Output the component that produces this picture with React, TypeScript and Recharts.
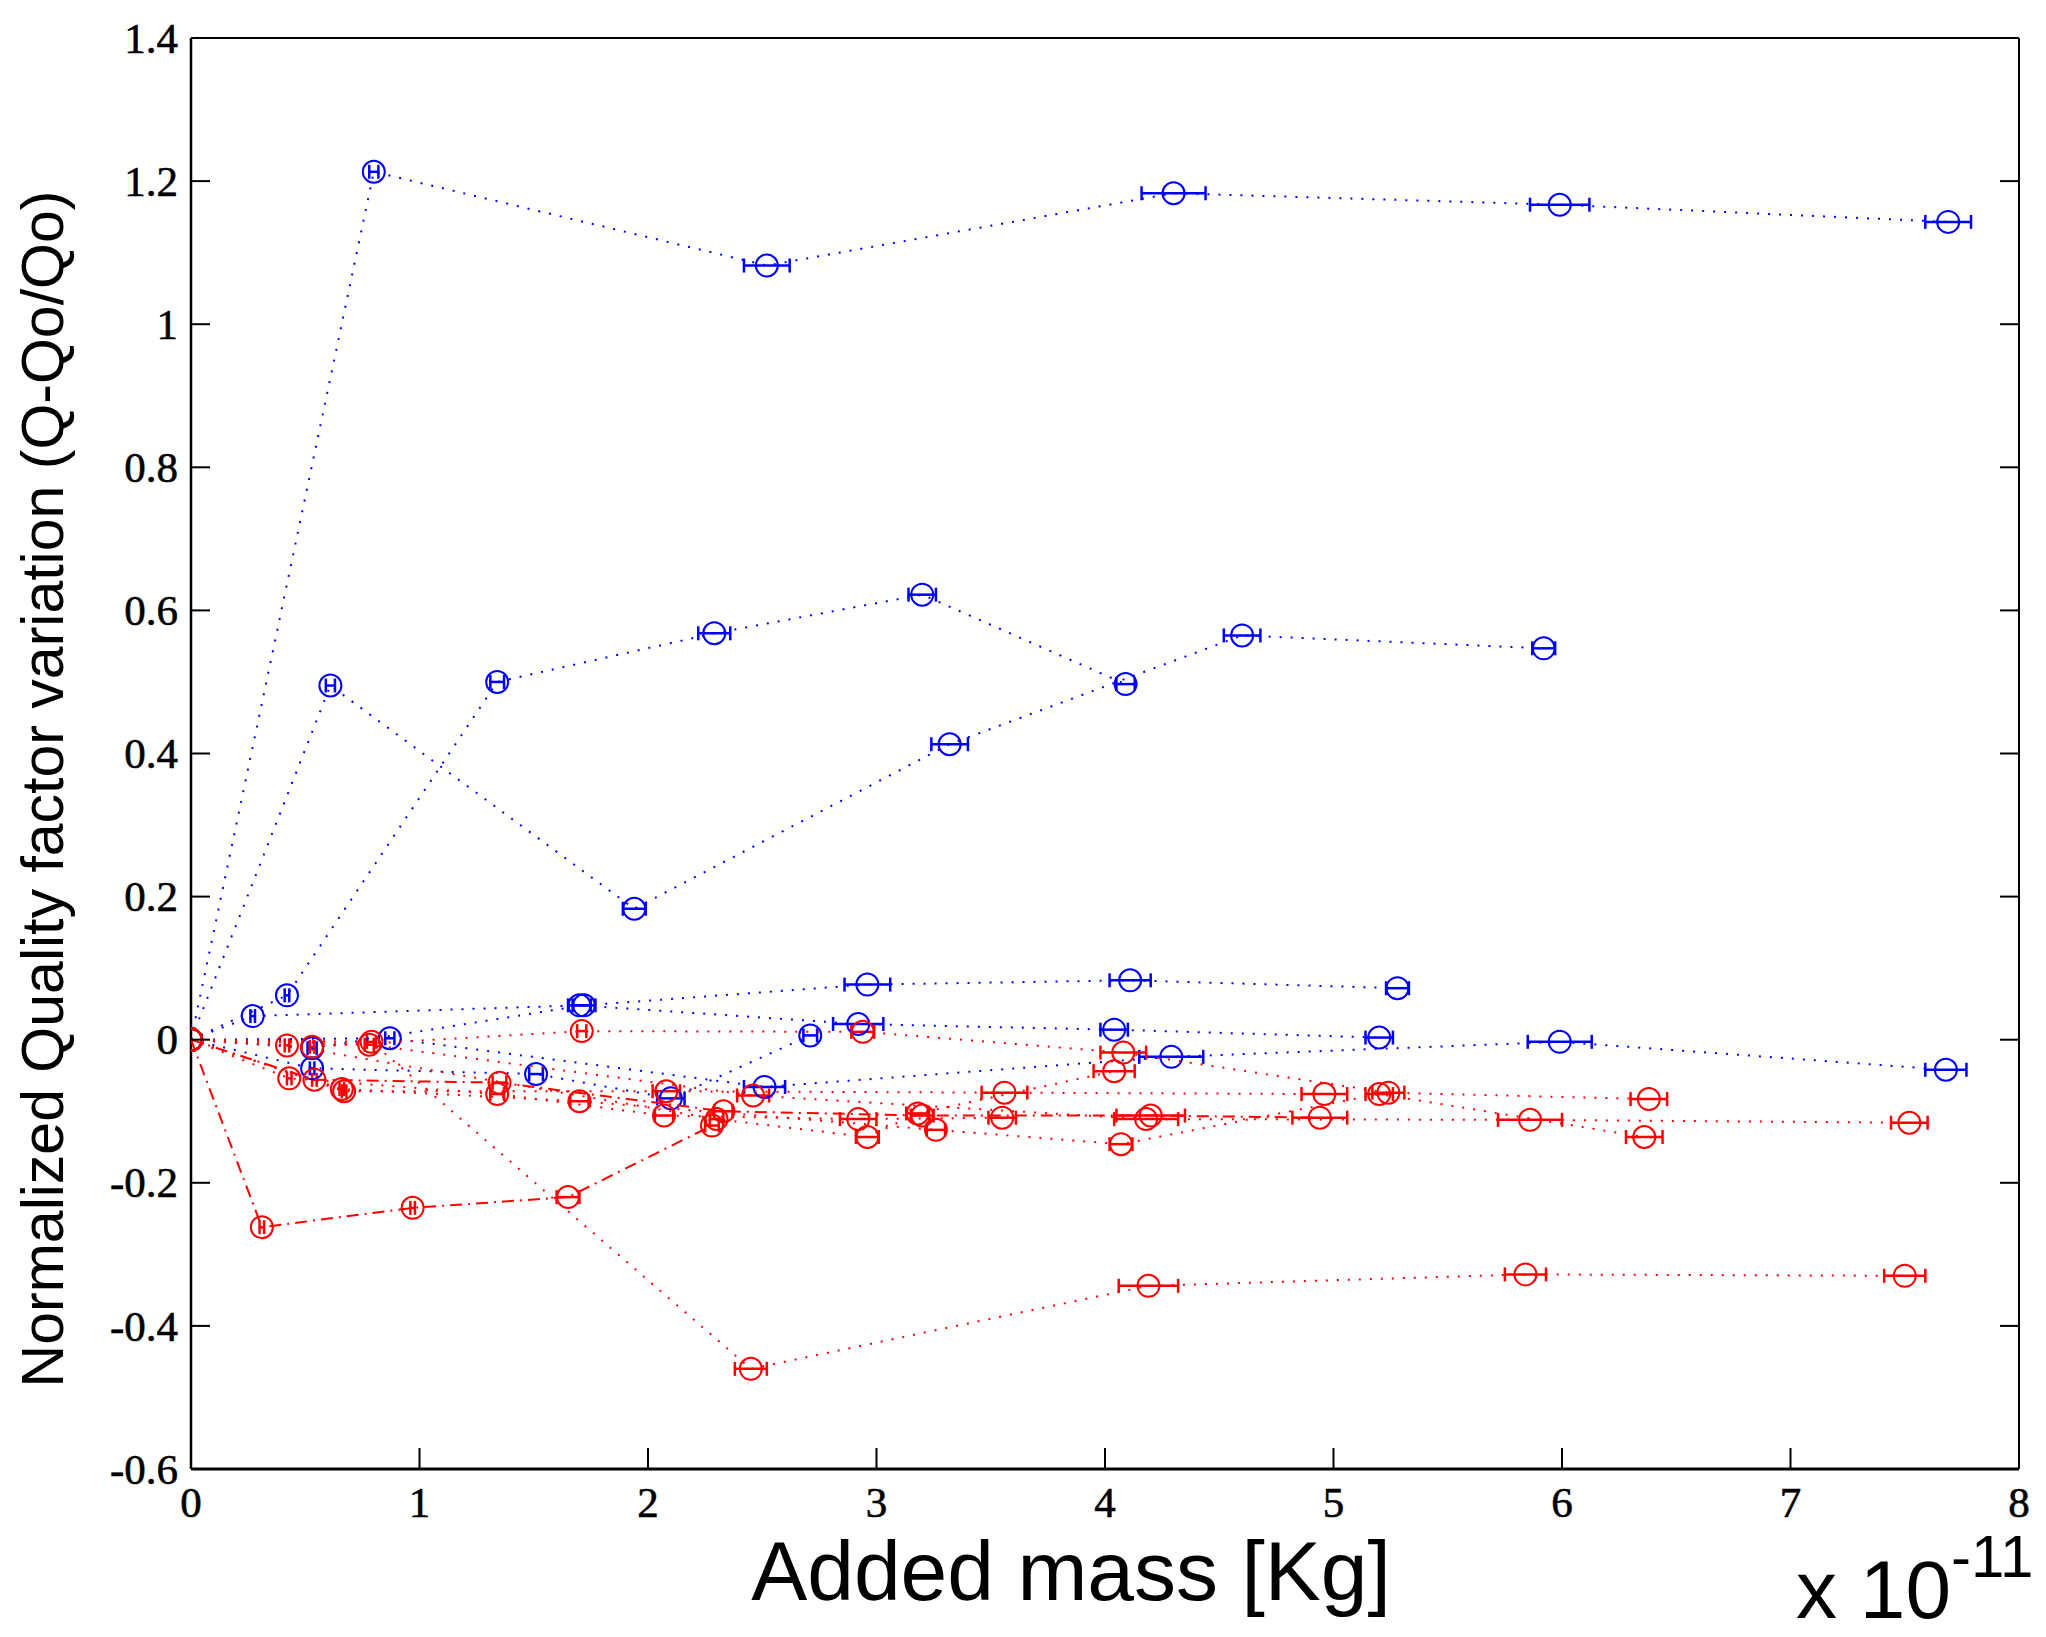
import React from "react";
import { ScatterChart, Scatter, XAxis, YAxis, ErrorBar, Label } from "recharts";

// axis ticks
const X_TICKS = [0, 1, 2, 3, 4, 5, 6, 7, 8];
const Y_TICKS = [-0.6, -0.4, -0.2, 0, 0.2, 0.4, 0.6, 0.8, 1, 1.2, 1.4];

// blue runs (added mass x1e-11 kg, normalized Q variation, mass error)
const B1_X = [0, 0.80, 2.52, 4.30, 5.99, 7.69];
const B1_Y = [0, 1.213, 1.082, 1.183, 1.167, 1.143];
const B1_E = [0, 0.02, 0.10, 0.14, 0.13, 0.10];

const B2_X = [0, 0.61, 1.94, 3.32, 4.60, 5.92];
const B2_Y = [0, 0.495, 0.183, 0.413, 0.565, 0.547];
const B2_E = [0, 0.02, 0.05, 0.08, 0.08, 0.05];

const B3_X = [0, 0.42, 1.34, 2.29, 3.20, 4.09];
const B3_Y = [0, 0.062, 0.500, 0.568, 0.622, 0.497];
const B3_E = [0, 0.01, 0.03, 0.07, 0.06, 0.04];

const B4_X = [0, 0.53, 1.72, 2.96, 4.11, 5.28];
const B4_Y = [0, -0.012, 0.048, 0.077, 0.083, 0.072];
const B4_E = [0, 0.02, 0.05, 0.10, 0.09, 0.05];

const B5_X = [0, 0.87, 2.51, 4.29, 5.99, 7.68];
const B5_Y = [0, 0.002, -0.066, -0.024, -0.003, -0.042];
const B5_E = [0, 0.02, 0.09, 0.14, 0.14, 0.09];

const B6_X = [0, 0.27, 1.70, 2.92, 4.04, 5.20];
const B6_Y = [0, 0.033, 0.048, 0.022, 0.014, 0.003];
const B6_E = [0, 0.01, 0.05, 0.11, 0.06, 0.06];

const B7_X = [0, 0.53, 1.51, 2.10, 2.71];
const B7_Y = [0, -0.040, -0.048, -0.082, 0.006];
const B7_E = [0, 0.01, 0.03, 0.06, 0.03];

// red runs
const R1_X = [0, 0.79, 2.45, 4.19, 5.84, 7.50];
const R1_Y = [0, -0.003, -0.460, -0.344, -0.328, -0.330];
const R1_E = [0, 0.02, 0.07, 0.13, 0.09, 0.09];

const R2_X = [0, 0.31, 0.97, 1.65, 2.28];
const R2_Y = [0, -0.262, -0.235, -0.220, -0.120];
const R2_E = [0, 0.01, 0.01, 0.05, 0.03];

const R3_X = [0, 0.53, 1.71, 2.94, 4.08, 5.24, 6.38];
const R3_Y = [0, -0.010, 0.012, 0.011, -0.018, -0.074, -0.083];
const R3_E = [0, 0.01, 0.02, 0.05, 0.10, 0.07, 0.08];

const R4_X = [0, 0.78, 2.46, 4.18, 5.86, 7.52];
const R4_Y = [0, -0.007, -0.078, -0.111, -0.112, -0.116];
const R4_E = [0, 0.02, 0.07, 0.14, 0.14, 0.08];

const R5_X = [0, 0.54, 1.35, 2.33, 3.20, 4.20, 4.94];
const R5_Y = [0, -0.056, -0.060, -0.100, -0.106, -0.106, -0.109];
const R5_E = [0, 0.01, 0.03, 0.04, 0.05, 0.15, 0.12];

const R6_X = [0, 0.43, 1.34, 2.07, 2.92, 3.55];
const R6_Y = [0, -0.054, -0.076, -0.106, -0.111, -0.109];
const R6_E = [0, 0.01, 0.03, 0.04, 0.08, 0.06];

const R7_X = [0, 0.66, 1.70, 3.26, 4.07, 5.20, 6.36];
const R7_Y = [0, -0.069, -0.086, -0.126, -0.146, -0.076, -0.136];
const R7_E = [0, 0.01, 0.04, 0.04, 0.05, 0.06, 0.08];

const R8_X = [0, 0.67, 2.08, 3.56, 4.96];
const R8_Y = [0, -0.072, -0.072, -0.074, -0.076];
const R8_E = [0, 0.01, 0.06, 0.10, 0.10];

const R9_X = [0, 0.42, 2.30, 2.96, 3.18, 4.04];
const R9_Y = [0, -0.008, -0.111, -0.136, -0.103, -0.044];
const R9_E = [0, 0.01, 0.03, 0.05, 0.05, 0.09];

const BLUE = "#0000ff";
const RED = "#ff0000";
const DOTTED = "2 9";
const DASHDOT = "12 6 2 6";

const zip = (xs: number[], ys: number[], es: number[]) =>
  xs.map((x, i) => ({ x, y: ys[i], e: es[i] }));

const SERIES = [
  { id: "b1", color: BLUE, dash: DOTTED, data: zip(B1_X, B1_Y, B1_E) },
  { id: "b2", color: BLUE, dash: DOTTED, data: zip(B2_X, B2_Y, B2_E) },
  { id: "b3", color: BLUE, dash: DOTTED, data: zip(B3_X, B3_Y, B3_E) },
  { id: "b4", color: BLUE, dash: DOTTED, data: zip(B4_X, B4_Y, B4_E) },
  { id: "b5", color: BLUE, dash: DOTTED, data: zip(B5_X, B5_Y, B5_E) },
  { id: "b6", color: BLUE, dash: DOTTED, data: zip(B6_X, B6_Y, B6_E) },
  { id: "b7", color: BLUE, dash: DOTTED, data: zip(B7_X, B7_Y, B7_E) },
  { id: "r1", color: RED, dash: DOTTED, data: zip(R1_X, R1_Y, R1_E) },
  { id: "r2", color: RED, dash: DASHDOT, data: zip(R2_X, R2_Y, R2_E) },
  { id: "r3", color: RED, dash: DOTTED, data: zip(R3_X, R3_Y, R3_E) },
  { id: "r4", color: RED, dash: DOTTED, data: zip(R4_X, R4_Y, R4_E) },
  { id: "r5", color: RED, dash: DASHDOT, data: zip(R5_X, R5_Y, R5_E) },
  { id: "r6", color: RED, dash: DOTTED, data: zip(R6_X, R6_Y, R6_E) },
  { id: "r7", color: RED, dash: DOTTED, data: zip(R7_X, R7_Y, R7_E) },
  { id: "r8", color: RED, dash: DOTTED, data: zip(R8_X, R8_Y, R8_E) },
  { id: "r9", color: RED, dash: DOTTED, data: zip(R9_X, R9_Y, R9_E) },
];

const SERIF = "Liberation Serif, Times New Roman, DejaVu Serif, serif";
const SANS = "Liberation Sans, Arial, sans-serif";
const TICK_LEN = 19;

const tickText = { fontFamily: SERIF, fontSize: 43, fill: "#000", stroke: "#000", strokeWidth: 0.6 };

const LeftTick = (p: any) => (
  <g>
    <line x1={p.x} y1={p.y} x2={p.x + TICK_LEN} y2={p.y} stroke="#000" strokeWidth={2} />
    <text x={p.x - 13} y={p.y} dy="0.34em" textAnchor="end" style={tickText}>
      {p.payload.value}
    </text>
  </g>
);

const RightTick = (p: any) => (
  <line x1={p.x - TICK_LEN} y1={p.y} x2={p.x} y2={p.y} stroke="#000" strokeWidth={2} />
);

const BottomTick = (p: any) => (
  <g>
    <line x1={p.x} y1={p.y} x2={p.x} y2={p.y - TICK_LEN - 2} stroke="#000" strokeWidth={2} />
    <text x={p.x} y={p.y + 48} textAnchor="middle" style={tickText}>
      {p.payload.value}
    </text>
  </g>
);

const TopTick = (p: any) => (
  <line x1={p.x} y1={p.y} x2={p.x} y2={p.y + TICK_LEN} stroke="#000" strokeWidth={2} />
);

const Marker = (color: string) => (p: any) => (
  <circle cx={p.cx} cy={p.cy} r={11} fill="none" stroke={color} strokeWidth={2} />
);

const XTitle = (p: any) => {
  const vb = p.viewBox;
  return (
    <g>
      <text x={vb.x + 880} y={vb.y + 131} textAnchor="middle" fontFamily={SANS} fontSize={84} fill="#000">
        Added mass [Kg]
      </text>
      <text x={vb.x + 1605} y={vb.y + 149} fontFamily={SANS} fontSize={82} fill="#000">
        x 10
        <tspan dy={-41} fontSize={60}>-11</tspan>
      </text>
    </g>
  );
};

const YTitle = (p: any) => {
  const vb = p.viewBox;
  const cx = vb.x + 34;
  const cy = vb.y + 751;
  return (
    <text
      x={cx}
      y={cy}
      dy="0.35em"
      textAnchor="middle"
      transform={`rotate(-90 ${cx} ${cy})`}
      fontFamily={SANS}
      fontSize={59}
      fill="#000"
    >
      Normalized Quality factor variation (Q-Qo/Qo)
    </text>
  );
};

export default function App() {
  return (
    <div style={{ width: 2030, height: 1629, background: "#fff" }}>
      <ScatterChart width={2030} height={1629} margin={{ top: 0, right: 0, bottom: 0, left: 0 }}>
        <XAxis
          xAxisId="b"
          type="number"
          dataKey="x"
          domain={[0, 8]}
          ticks={X_TICKS}
          interval={0}
          allowDataOverflow
          height={168}
          tickSize={0}
          tickMargin={0}
          tickLine={false}
          axisLine={{ stroke: "#000", strokeWidth: 3 }}
          tick={(p: any) => <BottomTick {...p} />}
        >
          <Label content={XTitle} />
        </XAxis>
        <XAxis
          xAxisId="t"
          orientation="top"
          type="number"
          domain={[0, 8]}
          ticks={X_TICKS}
          interval={0}
          allowDataOverflow
          height={30}
          tickSize={0}
          tickMargin={0}
          tickLine={false}
          axisLine={{ stroke: "#000", strokeWidth: 2 }}
          tick={(p: any) => <TopTick {...p} />}
        />
        <YAxis
          yAxisId="l"
          type="number"
          dataKey="y"
          domain={[-0.6, 1.4]}
          ticks={Y_TICKS}
          interval={0}
          allowDataOverflow
          width={183}
          tickSize={0}
          tickMargin={0}
          tickLine={false}
          axisLine={{ stroke: "#000", strokeWidth: 2.5 }}
          tick={(p: any) => <LeftTick {...p} />}
        >
          <Label content={YTitle} />
        </YAxis>
        <YAxis
          yAxisId="r"
          orientation="right"
          type="number"
          domain={[-0.6, 1.4]}
          ticks={Y_TICKS}
          interval={0}
          allowDataOverflow
          width={19}
          tickSize={0}
          tickMargin={0}
          tickLine={false}
          axisLine={{ stroke: "#000", strokeWidth: 2 }}
          tick={(p: any) => <RightTick {...p} />}
        />
        {SERIES.map((s) => (
          <Scatter
            key={s.id}
            data={s.data}
            xAxisId="b"
            yAxisId="l"
            isAnimationActive={false}
            lineType="joint"
            line={{ stroke: s.color, strokeWidth: 2, strokeDasharray: s.dash }}
            shape={Marker(s.color)}
          >
            <ErrorBar dataKey="e" direction="x" width={7} stroke={s.color} strokeWidth={2.5} />
          </Scatter>
        ))}
      </ScatterChart>
    </div>
  );
}
